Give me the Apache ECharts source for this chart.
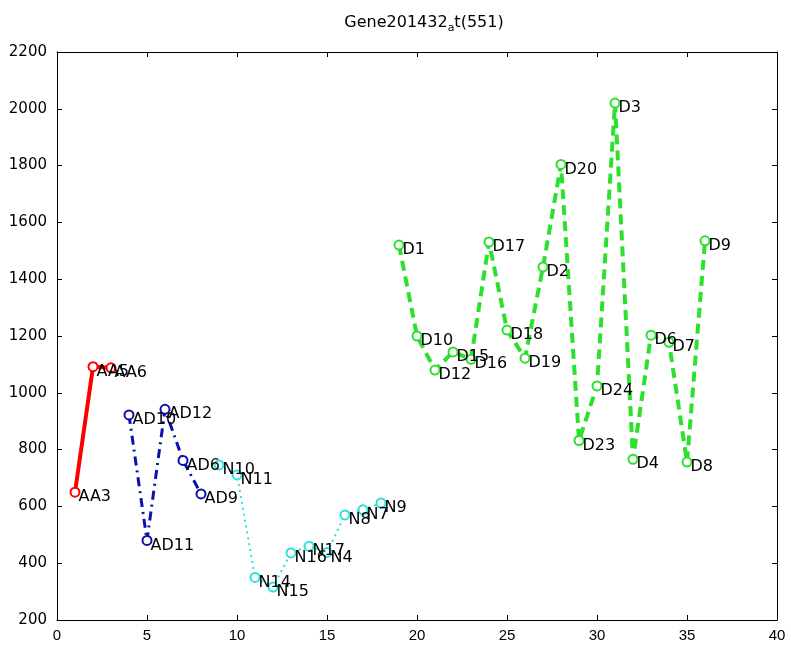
<!DOCTYPE html>
<html>
<head>
<meta charset="utf-8">
<script src="https://cdn.jsdelivr.net/npm/echarts@6/dist/echarts.min.js"></script>
<style>html,body{margin:0;padding:0;background:#fff}#c{width:791px;height:655px}</style>
</head>
<body>
<div id="c"></div>
<script>
// Data
const aaNames = ['AA3','AA5','AA6'];
const aaX = [1,2,3];
const aaY = [650,1092,1088];

const adNames = ['AD10','AD11','AD12','AD6','AD9'];
const adX = [4,5,6,7,8];
const adY = [922,480,942,762,644];

const nNames = ['N10','N11','N14','N15','N16','N17','N4','N8','N7','N9'];
const nX = [9,10,11,12,13,14,15,16,17,18];
const nY = [746,711,350,316,436,460,438,570,588,612];

const dNames = ['D1','D10','D12','D15','D16','D17','D18','D19','D2','D20','D23','D24','D3','D4','D6','D7','D8','D9'];
const dX = [19,20,21,22,23,24,25,26,27,28,29,30,31,32,33,34,35,36];
const dY = [1520,1200,1080,1144,1118,1531,1221,1122,1443,1804,832,1024,2020,766,1203,1178,756,1535];

const xTicks = [0,5,10,15,20,25,30,35,40];
const yTicks = [200,400,600,800,1000,1200,1400,1600,1800,2000,2200];

function pts(xs, ys, names){ return xs.map((x,i)=>[x, ys[i], names[i]]); }

const FONT = 'DejaVu Sans';
function mk(name, xs, ys, names, color, width, dash){
  return {
    name, type:'line', xAxisIndex:0, yAxisIndex:0,
    data: pts(xs, ys, names),
    symbol:'emptyCircle', symbolSize:9,
    lineStyle:{color, width, type:dash},
    itemStyle:{color, borderColor:color, borderWidth:2},
    label:{show:true, position:'right', distance:-2, color:'#000', fontFamily:FONT, fontSize:16,
      formatter:p=>p.data[2]},
    labelLayout:{hideOverlap:false, dy:5},
    animation:false, z:2
  };
}

const chart = echarts.init(document.getElementById('c'));
const axisCommon = {
  axisLine:{show:true, onZero:false, lineStyle:{color:'#000', width:1}},
  axisTick:{show:true, inside:true, length:5, lineStyle:{color:'#000'}},
  splitLine:{show:false}
};
chart.setOption({
  backgroundColor:'#fff',
  animation:false,
  title:{
    text:'{a|Gene201432}{s|a}{a|t(551)}',
    left:419, top:6, textAlign:'center',
    textStyle:{rich:{
      a:{fontFamily:FONT, fontSize:16, fontWeight:'normal', color:'#000'},
      s:{fontFamily:FONT, fontSize:11, fontWeight:'normal', color:'#000', verticalAlign:'bottom', padding:[12,0,0,0]}
    }}
  },
  grid:{left:57, right:14, top:52, bottom:35},
  xAxis:[
    Object.assign({type:'value', min:0, max:40, interval:5, position:'bottom',
      axisLabel:{color:'#000', fontFamily:'Liberation Sans', fontSize:15, margin:8, formatter:v=>String(v)}}, axisCommon),
    Object.assign({type:'value', min:0, max:40, interval:5, position:'top',
      axisLabel:{show:false}}, axisCommon)
  ],
  yAxis:[
    Object.assign({type:'value', min:200, max:2200, interval:200, position:'left',
      axisLabel:{color:'#000', fontFamily:FONT, fontSize:15, margin:10, formatter:v=>String(v)}}, axisCommon),
    Object.assign({type:'value', min:200, max:2200, interval:200, position:'right',
      axisLabel:{show:false}}, axisCommon)
  ],
  series:[
    mk('AA', aaX, aaY, aaNames, '#ff0000', 4, 'solid'),
    mk('AD', adX, adY, adNames, '#0a10b0', 3, [9,5,2,5]),
    mk('N', nX, nY, nNames, '#2ee0dc', 2, [2,4]),
    mk('D', dX, dY, dNames, '#2ee02e', 4, [10,6])
  ]
});
</script>
</body>
</html>
